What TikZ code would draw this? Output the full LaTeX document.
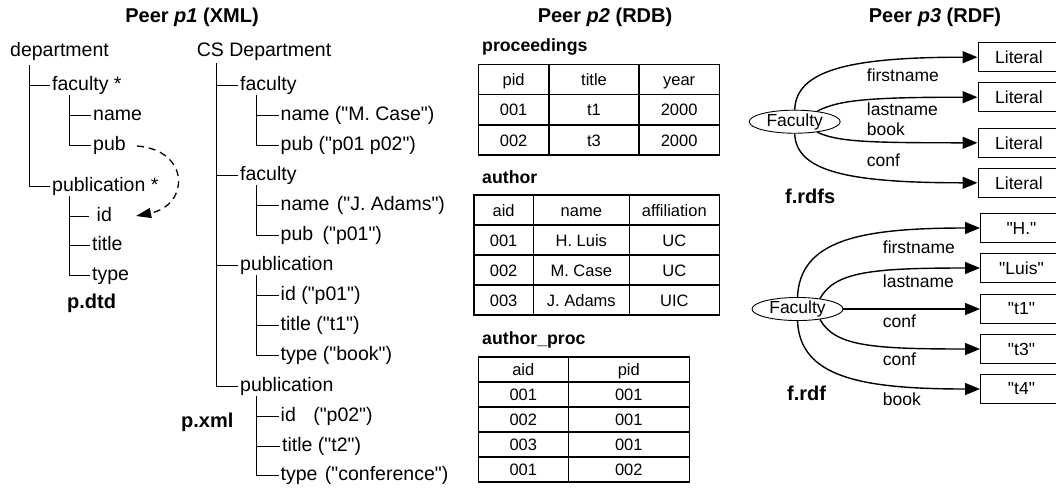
\documentclass[tikz,border=0pt]{standalone}
\usepackage{fontspec}
\setmainfont{Liberation Sans}[Ligatures=TeXOff]
\usetikzlibrary{arrows.meta,shapes.geometric}

% connector from a vertical stem at (x,top) to the left end of a child item
\newcommand\twig[3]{\draw[branch] (#1,#2) |- ([xshift=-2pt,yshift=5pt]#3.base west);}

\tikzset{
  treeitem/.style={font=\fontsize{19.5}{22}\selectfont, anchor=base west, yshift=-5pt, inner sep=0pt},
  branch/.style={line width=0.9pt, black},
  peertitle/.style={font=\fontsize{20}{24}\selectfont\bfseries, anchor=base, inner sep=0pt},
  filename/.style={font=\fontsize{20}{24}\selectfont\bfseries, anchor=base west, inner sep=0pt},
  tabname/.style={font=\fontsize{17.7}{21}\selectfont\bfseries, anchor=base west, inner sep=0pt},
  cell/.style={font=\fontsize{16.5}{20}\selectfont, anchor=base, inner sep=0pt},
  grid/.style={line width=1.1pt},
  rdffont/.style={font=\fontsize{17.5}{21}\selectfont},
  cls/.style={ellipse, draw, line width=0.9pt, minimum width=91pt, minimum height=23pt, inner sep=0pt, rdffont},
  lit/.style={rectangle, draw, line width=0.9pt, minimum width=82pt, minimum height=29pt, inner sep=0pt, anchor=west, rdffont},
  prop/.style={rdffont, anchor=base west, inner sep=0pt},
  rel/.style={line width=1.4pt, -{Triangle[length=15pt,width=12pt]}},
  ref/.style={line width=1.3pt, dash pattern=on 7pt off 5pt, -{Triangle[length=15pt,width=10pt]}},
}

\begin{document}
\begin{tikzpicture}[x=1pt, y=-1pt]
\useasboundingbox (0,0) rectangle (1056,488);

% ---------- peer titles ----------
\node[peertitle] (tp1) at (192,22.7) {Peer \textit{p1} (XML)};
\node[peertitle] (tp2) at (605,22.7) {Peer \textit{p2} (RDB)};
\node[peertitle] (tp3) at (935,22.7) {Peer \textit{p3} (RDF)};

% ---------- p.dtd ----------
\node[treeitem] (dep)    at (10,51)   {department};
\node[treeitem] (fac)    at (52,85)   {faculty *};
\node[treeitem] (fname)  at (93,115)  {name};
\node[treeitem] (fpub)   at (93,145)  {pub};
\node[treeitem] (pubn)   at (52,186)  {publication *};
\node[treeitem] (pid)    at (90.5,216) {\hspace*{6pt}id};
\node[treeitem] (ptitle) at (92,245)  {title};
\node[treeitem] (ptype)  at (92,275)  {type};
\node[filename] (dtd)    at (67,308)  {p.dtd};

\twig{29.3}{65}{fac}
\twig{29.3}{65}{pubn}
\twig{69}{95}{fname}
\twig{69}{95}{fpub}
\twig{69}{196}{pid}
\twig{69}{196}{ptitle}
\twig{69}{196}{ptype}

\draw[ref] ([xshift=11pt,yshift=4pt]fpub.base east) .. controls (190,150) and (190,205) .. ([xshift=24pt,yshift=5pt]pid.base east);

% ---------- p.xml ----------
\node[treeitem] (cs)   at (196.7,51) {CS Department};
\node[treeitem] (xf1)  at (240,85)    {faculty};
\node[treeitem] (xf1n) at (280.5,115) {name ("M. Case")};
\node[treeitem] (xf1p) at (280.5,145) {pub ("p01 p02")};
\node[treeitem] (xf2)  at (240,175)   {faculty};
\node[treeitem] (xf2n) at (280.5,205) {name\hspace{2pt} ("J. Adams")};
\node[treeitem] (xf2p) at (280.5,235) {pub\hspace{4pt} ("p01")};
\node[treeitem] (xp1)  at (240,265)   {publication};
\node[treeitem] (xp1i) at (280.5,295) {id ("p01")};
\node[treeitem] (xp1t) at (280.5,325) {title ("t1")};
\node[treeitem] (xp1y) at (280.5,355) {type ("book")};
\node[treeitem] (xp2)  at (240,386)   {publication};
\node[treeitem] (xp2i) at (280.5,416) {id\hspace{12pt} ("p02")};
\node[treeitem] (xp2t) at (282,446)   {title ("t2")};
\node[treeitem] (xp2y) at (280.5,475) {type\hspace{2pt} ("conference")};
\node[filename] (xml)  at (181,427)   {p.xml};

\foreach \c in {xf1,xf2,xp1,xp2} {\twig{216.3}{63}{\c}}
\twig{256.5}{95}{xf1n}
\twig{256.5}{95}{xf1p}
\twig{256.5}{185}{xf2n}
\twig{256.5}{185}{xf2p}
\twig{256.5}{275}{xp1i}
\twig{256.5}{275}{xp1t}
\twig{256.5}{275}{xp1y}
\twig{256.5}{396}{xp2i}
\twig{256.5}{396}{xp2t}
\twig{256.5}{396}{xp2y}

% ---------- relational tables ----------
\node[tabname] (tproc) at (482,51) {proceedings};
\draw[grid] (478.3,64.3) rectangle (719.3,155);
\foreach \y in {94.3,125} \draw[grid] (478.3,\y) -- (719.3,\y);
\foreach \x in {549,639} \draw[grid] (\x,64.3) -- (\x,155);
\foreach \r/\a/\b/\c/\yc in {0/pid/title/year/79.3, 1/001/t1/2000/109.7, 2/002/t3/2000/140} {
  \node[cell] (pr\r a) at (513.65,\yc+6) {\a};
  \node[cell] (pr\r b) at (594,\yc+6) {\b};
  \node[cell] (pr\r c) at (679.15,\yc+6) {\c};
}

\node[tabname] (tauth) at (482,183) {author};
\draw[grid] (474,195) rectangle (719.3,315);
\foreach \y in {225,255,285} \draw[grid] (474,\y) -- (719.3,\y);
\foreach \x in {533.3,629.3} \draw[grid] (\x,195) -- (\x,315);
\foreach \r/\a/\b/\c/\yc in {0/aid/name/affiliation/210, 1/001/H. Luis/UC/240, 2/002/M. Case/UC/270, 3/003/J. Adams/UIC/300} {
  \node[cell] (au\r a) at (503.65,\yc+6) {\a};
  \node[cell] (au\r b) at (581.3,\yc+6) {\b};
  \node[cell] (au\r c) at (674.3,\yc+6) {\c};
}

\node[tabname] (tap) at (482,344) {author\_proc};
\draw[grid] (478.3,357) rectangle (689.3,482);
\foreach \y in {382,407,432,457} \draw[grid] (478.3,\y) -- (689.3,\y);
\draw[grid] (568.3,357) -- (568.3,482);
\foreach \r/\a/\b/\yc in {0/aid/pid/369.5, 1/001/001/394.5, 2/002/001/419.5, 3/003/001/444.5, 4/001/002/469.5} {
  \node[cell] (ap\r a) at (523.3,\yc+6) {\a};
  \node[cell] (ap\r b) at (628.8,\yc+6) {\b};
}

% ---------- f.rdfs ----------
\node[cls] (fs) at (794.7,121.7) {Faculty};
\node[lit] (s1) at (977.5,57.2)  {Literal};
\node[lit] (s2) at (977.5,97.2)  {Literal};
\node[lit] (s3) at (977.5,142.8) {Literal};
\node[lit] (s4) at (977.5,182.8) {Literal};
\draw[rel] (fs.north) .. controls (796,70) and (850,57.2) .. (s1.west);
\draw[rel] (fs.25) .. controls (838,100) and (870,97.2) .. (s2.west);
\draw[rel] (fs.-25) .. controls (838,142) and (870,142.8) .. (s3.west);
\draw[rel] (fs.south) .. controls (796,172) and (850,182.8) .. (s4.west);
\node[prop] (sp1) at (866.7,81.7)  {firstname};
\node[prop] (sp2) at (866.7,115)   {lastname};
\node[prop] (sp3) at (866.7,135)   {book};
\node[prop] (sp4) at (866.7,166.7) {conf};
\node[filename] (rdfs) at (785,203) {f.rdfs};

% ---------- f.rdf ----------
\node[cls] (fr) at (797.5,309) {Faculty};
\node[lit] (r1) at (980,228)   {"H."};
\node[lit] (r2) at (980,268)   {"Luis"};
\node[lit] (r3) at (980,309)   {"t1"};
\node[lit] (r4) at (980,349)   {"t3"};
\node[lit] (r5) at (980,389)   {"t4"};
\draw[rel] (fr.north) .. controls (800,240) and (860,228) .. (r1.west);
\draw[rel] (fr.25) .. controls (835,272) and (870,268) .. (r2.west);
\draw[rel] (fr.east) -- (r3.west);
\draw[rel] (fr.-25) .. controls (835,346) and (870,349) .. (r4.west);
\draw[rel] (fr.south) .. controls (800,377) and (860,389) .. (r5.west);
\node[prop] (rp1) at (882.7,253.3) {firstname};
\node[prop] (rp2) at (882.7,287.3) {lastname};
\node[prop] (rp3) at (882.7,327.7) {conf};
\node[prop] (rp4) at (882.7,365)   {conf};
\node[prop] (rp5) at (882.7,405)   {book};
\node[filename] (rdf) at (787,400) {f.rdf};
\end{tikzpicture}
\end{document}
